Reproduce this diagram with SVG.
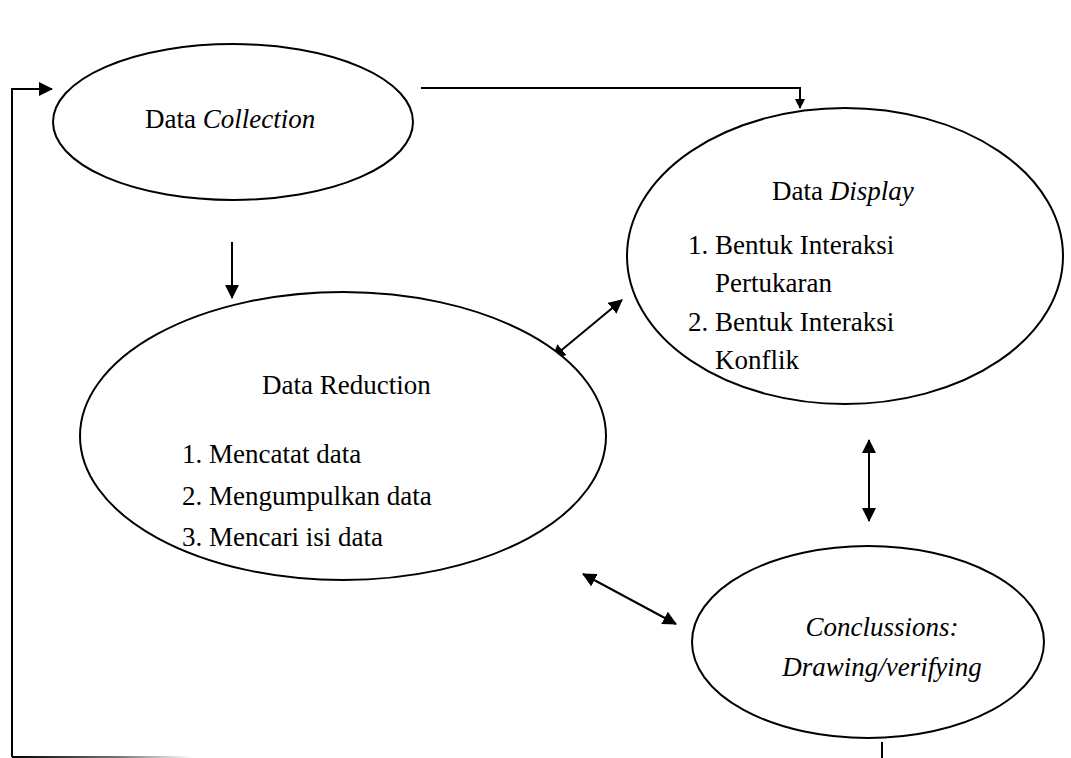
<svg xmlns="http://www.w3.org/2000/svg" width="1071" height="758" viewBox="0 0 1071 758">
<style>
.n{fill:#fff;stroke:#000;stroke-width:2}
.c{stroke:#000;stroke-width:2;fill:none}
text{font-family:"Liberation Serif","Times New Roman",serif;font-size:27px;fill:#000}
.i{font-style:italic}
</style>
<defs>
<marker id="ah" markerWidth="10" markerHeight="10" refX="9" refY="5" orient="auto-start-reverse" markerUnits="userSpaceOnUse" viewBox="0 0 10 10">
<path d="M0,0 L10,5 L0,10 z" fill="#000"/>
</marker>
<marker id="ahb" markerWidth="14" markerHeight="14" refX="13" refY="7" orient="auto-start-reverse" markerUnits="userSpaceOnUse" viewBox="0 0 14 14">
<path d="M0,0 L14,7 L0,14 z" fill="#000"/>
</marker>
<linearGradient id="fade" x1="0" x2="1" y1="0" y2="0">
<stop offset="0" stop-color="#000"/>
<stop offset="0.6" stop-color="#777"/>
<stop offset="1" stop-color="#fff"/>
</linearGradient>
</defs>
<g id="connectors">
<polyline class="c" points="12,757 12,89 52,89" marker-end="url(#ahb)"/>
<rect x="12" y="756" width="180" height="2" fill="url(#fade)"/>
<line class="c" x1="882" y1="742" x2="882" y2="758"/>
<polyline class="c" points="421,88 800,88 800,108" marker-end="url(#ah)"/>
<line class="c" x1="232" y1="242" x2="232" y2="298" marker-end="url(#ahb)"/>
<line class="c" x1="552" y1="358" x2="622" y2="300" marker-start="url(#ahb)" marker-end="url(#ahb)"/>
<line class="c" x1="583" y1="574" x2="676" y2="624" marker-start="url(#ahb)" marker-end="url(#ahb)"/>
<line class="c" x1="869" y1="440" x2="869" y2="521" marker-start="url(#ahb)" marker-end="url(#ahb)"/>
</g>
<g id="collection">
<ellipse class="n" cx="233" cy="122" rx="180" ry="78"/>
<text x="145" y="128">Data <tspan class="i">Collection</tspan></text>
</g>
<g id="display">
<ellipse class="n" cx="845" cy="256" rx="218" ry="148"/>
<text x="772" y="200">Data <tspan class="i">Display</tspan></text>
<text x="688" y="254">1. Bentuk Interaksi</text>
<text x="715" y="292">Pertukaran</text>
<text x="688" y="331">2. Bentuk Interaksi</text>
<text x="715" y="369">Konflik</text>
</g>
<g id="reduction">
<ellipse class="n" cx="343" cy="436" rx="263" ry="144"/>
<text x="262" y="394">Data Reduction</text>
<text x="182" y="463">1. Mencatat data</text>
<text x="182" y="505">2. Mengumpulkan data</text>
<text x="182" y="546">3. Mencari isi data</text>
</g>
<g id="conclusions">
<ellipse class="n" cx="868" cy="642" rx="176" ry="96"/>
<text class="i" x="882" y="636" text-anchor="middle">Conclussions:</text>
<text class="i" x="882" y="676" text-anchor="middle">Drawing/verifying</text>
</g>
</svg>
